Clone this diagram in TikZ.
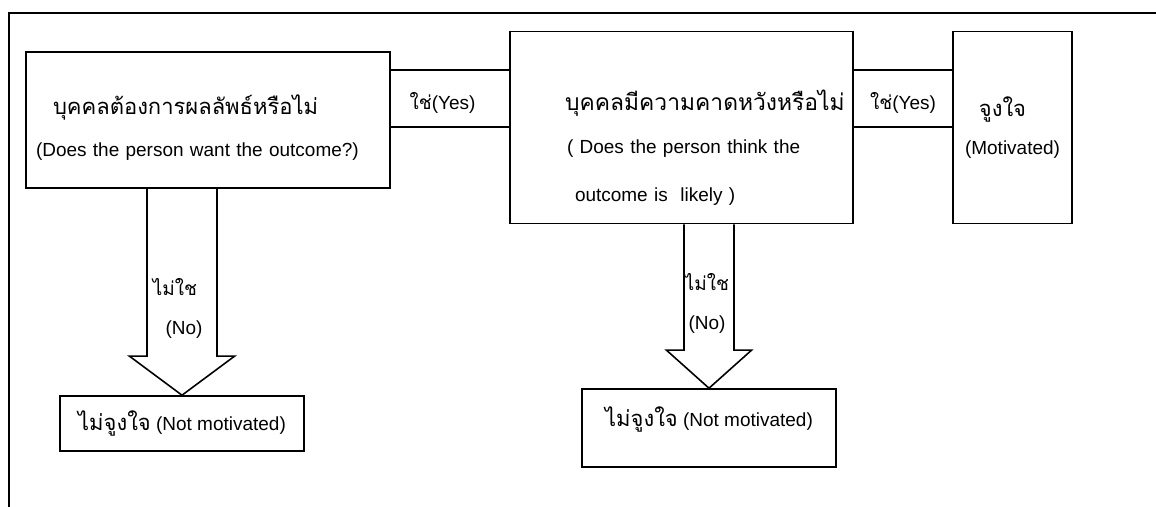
\documentclass[tikz,border=0pt]{standalone}
\usepackage{fontspec}
\setmainfont{Liberation Sans}
\newfontfamily\thaifont[Script=Thai]{Loma}
\usepackage{tikz}
\usetikzlibrary{positioning, calc}

\begin{document}
\begin{tikzpicture}[line width=0.9pt, font=\fontsize{10.8}{13}\selectfont,
  box/.style={rectangle, draw, inner ysep=0pt},
  band/.style={rectangle, draw, minimum height=1.14cm, inner sep=0pt, text height=0.5cm},
  lbl/.style={inner sep=1pt},
  noarrow/.style={draw, line join=miter}]
\useasboundingbox (0,0) rectangle (23.12,-10.14);
% frame
\draw (0.16,-0.26) -- (23.12,-0.26);
\draw (0.18,-0.26) -- (0.18,-10.14);

\node[box, minimum width=7.28cm, minimum height=2.72cm, text width=6.88cm, inner xsep=0.2cm, align=left] (want) at (4.16,-2.40) {\rule{0pt}{0.7cm}\hspace*{0.34cm}{\thaifont\fontsize{12.5}{15}\selectfont บุคคลต้องการผลลัพธ์หรือไม่}\\[0.38cm](Does the person want the outcome?)};
\node[box, minimum width=6.86cm, minimum height=3.84cm, text width=6.46cm, inner xsep=0.2cm, align=left] (expect) at (13.63,-2.55) {\rule{0pt}{1.22cm}\hspace*{0.9cm}{\thaifont\fontsize{13}{15}\selectfont บุคคลมีความคาดหวังหรือไม่}\\[0.4cm]\hspace*{0.94cm}( Does the person think the\\[0.5cm]\hspace*{1.1cm}outcome is\ \ likely )};
\node[box, minimum width=2.38cm, minimum height=3.84cm, align=center] (motiv) at (20.25,-2.55) {{\thaifont\fontsize{12.5}{15}\selectfont จูงใจ}\hspace*{0.4cm}\\[0.3cm](Motivated)};

\node[band, minimum width=2.4cm] (yes1) at (9.0,-1.97) {{\thaifont ใช่}(Yes)\hspace*{0.3cm}};
\node[band, minimum width=2.0cm] (yes2) at (18.06,-1.97) {{\thaifont ใช่}(Yes)};

\node[box, minimum width=4.88cm, minimum height=1.10cm] (nomot1) at (3.64,-8.47) {{\thaifont\fontsize{12.5}{15}\selectfont ไม่จูงใจ} (Not motivated)};
\node[box, minimum width=5.08cm, minimum height=1.56cm, text depth=0.45cm] (nomot2) at (14.18,-8.56) {{\thaifont\fontsize{12.5}{15}\selectfont ไม่จูงใจ} (Not motivated)};

% no arrows
\draw[noarrow] let \p1=(nomot1.north), \p2=(want.south) in (\x1-0.7cm,\y2) -- (\x1-0.7cm,\y1+0.78cm) -- (\x1-1.05cm,\y1+0.78cm) -- (\p1) -- (\x1+1.05cm,\y1+0.78cm) -- (\x1+0.7cm,\y1+0.78cm) -- (\x1+0.7cm,\y2);
\draw[noarrow] let \p1=(nomot2.north), \p2=(expect.south) in (\x1-0.5cm,\y2) -- (\x1-0.5cm,\y1+0.76cm) -- (\x1-0.85cm,\y1+0.76cm) -- (\p1) -- (\x1+0.85cm,\y1+0.76cm) -- (\x1+0.5cm,\y1+0.76cm) -- (\x1+0.5cm,\y2);

\node[lbl] (no1a) at (3.50,-5.74) {\thaifont ไม่ใช};
\node[lbl] (no1b) at (3.68,-6.60) {(No)};
\node[lbl] (no2a) at (14.14,-5.64) {\thaifont ไม่ใช};
\node[lbl] (no2b) at (14.14,-6.50) {(No)};
\end{tikzpicture}
\end{document}
